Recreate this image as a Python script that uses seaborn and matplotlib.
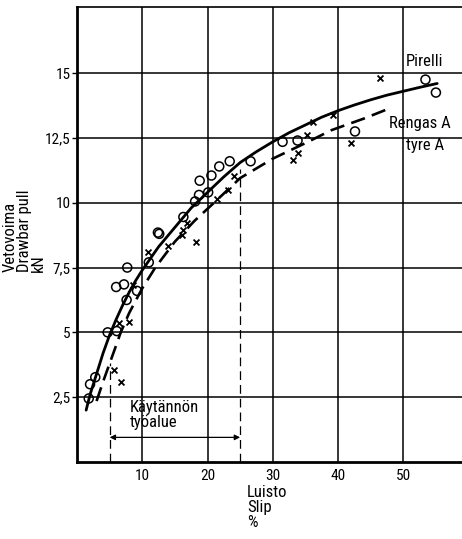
import matplotlib
matplotlib.use("Agg")
import matplotlib.pyplot as plt
from matplotlib import font_manager
import numpy as np
import pandas as pd
import seaborn as sns

# --- measured data (slip %, drawbar pull kN) ---
pirelli_slip = [1.8, 2.0, 2.8, 4.7, 6.1, 7.6, 6.0, 7.2, 9.2, 7.7, 11.0, 12.4, 12.6,
                16.3, 18.1, 18.7, 18.8, 20.1, 20.6, 21.8, 23.4, 26.6, 31.5, 33.8,
                42.6, 53.4, 55.0]
pirelli_pull = [2.45, 3.0, 3.27, 5.0, 5.05, 6.25, 6.75, 6.85, 6.6, 7.5, 7.7, 8.85, 8.8,
                9.45, 10.05, 10.3, 10.85, 10.4, 11.05, 11.4, 11.6, 11.6, 12.35, 12.4,
                12.75, 14.75, 14.25]

tyreA_slip = [5.7, 6.8, 6.4, 8.0, 8.6, 10.9, 13.9, 16.1, 16.3, 16.8, 18.3, 21.5,
              23.1, 24.0, 33.1, 33.8, 35.3, 36.1, 39.2, 42.0, 46.4]
tyreA_pull = [3.55, 3.1, 5.37, 5.4, 6.83, 8.1, 8.35, 8.75, 8.95, 9.2, 8.5, 10.15,
              10.5, 11.05, 11.65, 11.9, 12.6, 13.1, 13.4, 12.3, 14.8]

# fitted curves
pirelli_curve_slip = [1.4, 2.0, 3.0, 4.0, 5.0, 6.0, 7.0, 8.0, 9.0, 10.0, 12.5, 15.0,
                      17.5, 20.0, 22.5, 25.0, 27.5, 30.0, 32.5, 35.0, 37.5, 40.0,
                      42.5, 45.0, 47.5, 50.0, 52.5, 55.2]
pirelli_curve_pull = [2.0, 2.6, 3.4, 4.2, 4.9, 5.5, 6.05, 6.55, 7.0, 7.4, 8.3, 9.05,
                      9.8, 10.4, 11.0, 11.55, 11.97, 12.35, 12.7, 13.0, 13.3, 13.55,
                      13.77, 13.97, 14.15, 14.3, 14.45, 14.6]

tyreA_curve_slip = [3.0, 4.0, 5.0, 6.0, 6.7, 8.0, 10.0, 12.0, 15.0, 18.0, 21.0, 25.0,
                    30.0, 35.0, 39.0, 44.0, 48.0]
tyreA_curve_pull = [2.35, 3.1, 3.8, 4.5, 5.0, 5.75, 6.7, 7.5, 8.5, 9.3, 10.0, 10.95,
                    11.7, 12.3, 12.8, 13.25, 13.65]

x_ticks = [10, 20, 30, 40, 50]
y_ticks = [2.5, 5, 7.5, 10, 12.5, 15]
y_tick_labels = ["2,5", "5", "7,5", "10", "12,5", "15"]

work_range = [5, 25]
work_range_top = [3.8, 11.3]

sns.set_theme(style="white")

# pick a narrow font if one is installed
names = {f.name for f in font_manager.fontManager.ttflist}
narrow = [n for n in ["Liberation Sans Narrow", "Roboto Condensed", "Open Sans Condensed",
                      "DejaVu Sans Condensed"] if n in names]
plt.rcParams["font.family"] = narrow + ["DejaVu Sans"]
stretch_ok = any(f.name == "DejaVu Sans" and f.stretch == "condensed"
                 for f in font_manager.fontManager.ttflist)
if not narrow and stretch_ok:
    plt.rcParams["font.stretch"] = "condensed"
is_narrow = bool(narrow or stretch_ok)
TFS = 11 if is_narrow else 9.5     # tick labels
LFS = 12 if is_narrow else 10      # other texts

plt.rcParams["text.color"] = "black"
plt.rcParams["xtick.color"] = "black"
plt.rcParams["ytick.color"] = "black"

fig = plt.figure(figsize=(4.62, 5.39), dpi=100)
ax = fig.add_axes([77 / 462, 77 / 539, 1 - 77 / 462, 455 / 539])

ax.set_xlim(0, 59)
ax.set_ylim(0, 17.55)
ax.set_xticks(x_ticks)
ax.set_xticklabels([str(v) for v in x_ticks])
ax.set_yticks(y_ticks)
ax.set_yticklabels(y_tick_labels)
ax.grid(True, color="black", linewidth=1.1)
ax.set_axisbelow(True)

for side in ["left", "bottom"]:
    ax.spines[side].set_linewidth(2.0)
    ax.spines[side].set_color("black")
ax.spines["top"].set_linewidth(1.2)
ax.spines["top"].set_color("black")
ax.spines["right"].set_visible(False)

ax.tick_params(axis="y", length=3.5, width=1, color="black", pad=1,
               labelsize=TFS, left=True, direction="out", labelcolor="black")
ax.tick_params(axis="x", length=0, pad=5, labelsize=TFS, labelcolor="black")

df_p = pd.DataFrame({"slip": pirelli_slip, "pull": pirelli_pull})
df_a = pd.DataFrame({"slip": tyreA_slip, "pull": tyreA_pull})
df_pc = pd.DataFrame({"slip": pirelli_curve_slip, "pull": pirelli_curve_pull})
df_ac = pd.DataFrame({"slip": tyreA_curve_slip, "pull": tyreA_curve_pull})

sns.lineplot(data=df_pc, x="slip", y="pull", color="black", linewidth=2.0,
             sort=False, estimator=None, ax=ax)
sns.lineplot(data=df_ac, x="slip", y="pull", color="black", linewidth=1.9,
             linestyle=(0, (5.5, 2.8)), sort=False, estimator=None, ax=ax)

sns.scatterplot(data=df_p, x="slip", y="pull", marker="o", s=42,
                facecolor="none", edgecolor="black", linewidth=1.1, ax=ax, zorder=3)
sns.scatterplot(data=df_a, x="slip", y="pull", marker="x", s=18,
                color="black", linewidth=1.3, ax=ax, zorder=3)

# working range
for xv, top in zip(work_range, work_range_top):
    ax.plot([xv, xv], [0, top], color="black", linewidth=0.9,
            linestyle=(0, (7, 4)))
ax.annotate("", xy=(work_range[0], 0.95), xytext=(work_range[1], 0.95),
            arrowprops=dict(arrowstyle="<|-|>", color="black", lw=0.9,
                            mutation_scale=8, shrinkA=0, shrinkB=0))
ax.text(8.1, 2.4, "Käytännön\ntyöalue", ha="left", va="top", fontsize=LFS,
        linespacing=1.0)

ax.text(50.4, 15.45, "Pirelli", ha="left", va="center", fontsize=LFS)
ax.text(47.8, 13.05, "Rengas A", ha="left", va="center", fontsize=LFS)
ax.text(50.4, 12.2, "tyre A", ha="left", va="center", fontsize=LFS)

ax.set_xlabel("")
ax.set_ylabel("")
fig.text(3 / 462, 1 - 272 / 539, "Vetovoima\nDrawbar pull\nkN", rotation=90,
         ha="left", va="bottom", multialignment="left", fontsize=LFS,
         linespacing=0.92)
fig.text(247 / 462, 1 - 485 / 539, "Luisto\nSlip\n%", ha="left", va="top",
         fontsize=LFS, linespacing=1.02)

fig.savefig("out.png", dpi=100)
